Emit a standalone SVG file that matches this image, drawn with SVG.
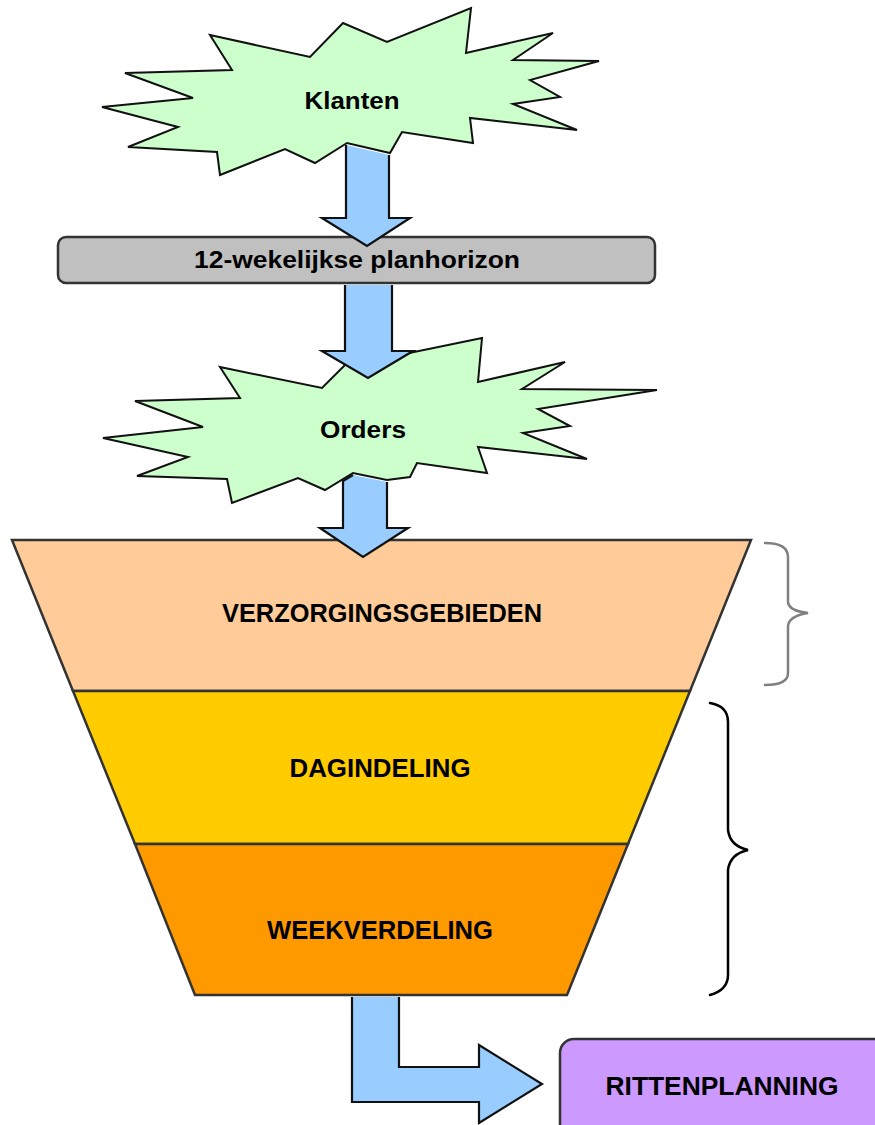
<svg xmlns="http://www.w3.org/2000/svg" width="875" height="1125" viewBox="0 0 875 1125">
<style>
.burst{fill:#CCFFCC;stroke:#111;stroke-width:2;stroke-linejoin:miter}
.lbl{font-family:"Liberation Sans",Arial,sans-serif;font-weight:bold;fill:#000;text-anchor:middle}
.arrow{fill:#99CCFF;stroke:#111;stroke-width:2.2;stroke-linejoin:miter}
.funnel{stroke:#333;stroke-width:2.5;stroke-linejoin:miter}
.brace{fill:none;stroke-width:2.5;stroke-linecap:round}
</style>
<rect width="875" height="1125" fill="#fff"/>

<g id="funnel">
  <g id="verzorgingsgebieden">
    <polygon class="funnel" fill="#FFCC99" points="12,540 751,540 690,691 73,691"/>
    <text class="lbl" x="382" y="622" font-size="26" textLength="320" lengthAdjust="spacingAndGlyphs">VERZORGINGSGEBIEDEN</text>
  </g>
  <g id="dagindeling">
    <polygon class="funnel" fill="#FFCC00" points="73,691 690,691 628,844 135,844"/>
    <text class="lbl" x="380" y="777" font-size="26" textLength="181" lengthAdjust="spacingAndGlyphs">DAGINDELING</text>
  </g>
  <g id="weekverdeling">
    <polygon class="funnel" fill="#FF9900" points="135,844 628,844 567,995 195,995"/>
    <text class="lbl" x="380" y="939" font-size="26" textLength="226" lengthAdjust="spacingAndGlyphs">WEEKVERDELING</text>
  </g>
</g>

<g id="klanten">
  <polygon class="burst" points="210,35 310,57 343,23 387,42 471,8 466,53 553,33 513,60 599,61 530,80 560,97 513,104 577,130 470,118 473,143 402,132 390,153 347,143 315,163 285,149 220,175 217,152 128,147 178,127 102,107 193,98 125,73 232,70"/>
  <text class="lbl" x="352" y="109" font-size="23" textLength="95" lengthAdjust="spacingAndGlyphs">Klanten</text>
</g>

<g id="planhorizon">
  <rect x="58" y="237" width="597" height="46" rx="8" ry="8" fill="#C0C0C0" stroke="#333" stroke-width="2.5"/>
  <text class="lbl" x="357" y="268" font-size="24" textLength="326" lengthAdjust="spacingAndGlyphs">12-wekelijkse planhorizon</text>
</g>

<g id="orders">
  <polygon class="burst" points="220,367 322,388 352,358 385,358 482,338 478,382 565,362 522,389 657,390 538,409 570,426 523,433 587,459 478,447 487,473 417,463 410,477 387,480 353,473 325,490 298,478 232,503 227,479 137,476 188,457 103,438 203,427 135,401 240,398"/>
  <text class="lbl" x="363" y="438" font-size="23" textLength="86" lengthAdjust="spacingAndGlyphs">Orders</text>
</g>

<g id="rittenplanning">
  <rect x="560" y="1039" width="340" height="120" rx="14" ry="14" fill="#CC99FF" stroke="#333" stroke-width="2.5"/>
  <text class="lbl" x="722" y="1095" font-size="26" textLength="233" lengthAdjust="spacingAndGlyphs">RITTENPLANNING</text>
</g>

<g id="braces">
  <path class="brace" stroke="#808080" d="M765,543 Q788,543 788,557 L788,602 Q789,611 808,613 Q789,616 788,626 L788,673 Q788,685 765,685"/>
  <path class="brace" stroke="#000" d="M710,703 Q728,706 728,722 L728,830 Q730,846 748,850 Q730,854 728,870 L728,975 Q728,990 710,995"/>
</g>

<g id="connectors">
  <path class="arrow" d="M389,155 L389,218 L410,218 L367,246 L322,218 L346,218 L346,145"/>
  <path class="arrow" d="M392,285 L392,351 L413,351 L368,378 L322,351 L345,351 L345,285"/>
  <path class="arrow" d="M387,482 L387,528 L408,528 L363,557 L320,528 L343,528 L343,481 L353,475"/>
  <path class="arrow" d="M399,997 L399,1067 L479,1067 L479,1045 L542,1084 L479,1123 L479,1102 L352,1102 L352,997"/>
</g>
</svg>
